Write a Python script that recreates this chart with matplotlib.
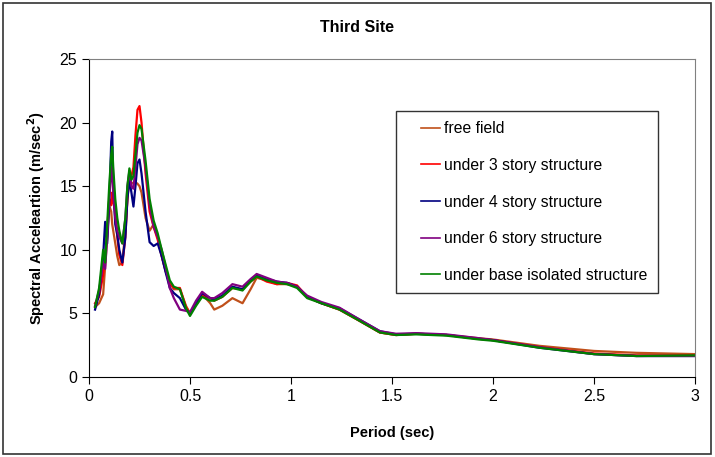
import matplotlib
matplotlib.use('Agg')
import matplotlib.pyplot as plt
from matplotlib.patches import Rectangle
from matplotlib.legend_handler import HandlerLine2D
from matplotlib.lines import Line2D

plt.rcParams['font.family'] = ['Liberation Sans', 'DejaVu Sans']

period = [0.03, 0.05, 0.07, 0.08, 0.09, 0.10, 0.11, 0.115, 0.12, 0.13,
          0.14, 0.15, 0.165, 0.18, 0.19, 0.20, 0.21, 0.22, 0.23, 0.24,
          0.25, 0.26, 0.28, 0.30, 0.32, 0.34, 0.36, 0.38, 0.40, 0.42,
          0.45, 0.48, 0.50, 0.53, 0.56, 0.60, 0.62, 0.66, 0.71, 0.76,
          0.80, 0.83, 0.88, 0.93, 0.98, 1.03, 1.08, 1.15, 1.24, 1.33,
          1.44, 1.52, 1.62, 1.77, 1.93, 2.00, 2.23, 2.50, 2.71, 3.00]

free_field = [5.5, 5.8, 6.5, 8.7, 11.0, 13.5, 13.0, 12.0, 11.5, 10.5,
              9.5, 8.8, 9.0, 11.5, 14.0, 15.5, 15.3, 15.2, 15.3, 15.2,
              15.0, 14.5, 12.5, 11.5, 12.0, 11.0, 9.5, 8.3, 7.4, 6.9,
              6.9, 5.6, 5.0, 5.7, 6.5, 5.8, 5.3, 5.6, 6.2, 5.8,
              6.9, 7.8, 7.6, 7.3, 7.3, 7.1, 6.3, 5.8, 5.3, 4.5,
              3.5, 3.3, 3.4, 3.3, 3.05, 2.95, 2.45, 2.05, 1.9, 1.8]

story3 = [5.8, 6.3, 8.0, 9.5, 11.5, 14.0, 13.5, 14.5, 13.8, 13.0,
          11.0, 9.6, 8.8, 11.0, 14.0, 16.0, 15.8, 16.5, 19.0, 21.0,
          21.3, 20.0, 16.0, 13.0, 11.8, 10.8, 9.5, 8.3, 7.3, 7.0,
          7.0, 5.5, 5.0, 5.7, 6.4, 6.2, 6.0, 6.3, 7.0, 6.9,
          7.5, 7.9, 7.5, 7.3, 7.4, 7.2, 6.3, 5.8, 5.3, 4.5,
          3.5, 3.3, 3.4, 3.3, 3.0, 2.9, 2.35, 1.85, 1.7, 1.7]

story4 = [5.3, 6.5, 9.5, 12.2, 10.5, 13.5, 18.5, 19.3, 15.0, 12.0,
          11.2, 10.0, 9.0, 11.0, 14.0, 15.5, 14.5, 13.4, 15.0, 16.8,
          17.1, 16.0, 13.0, 10.6, 10.3, 10.5, 9.5, 8.2, 7.0, 6.6,
          6.2, 5.3, 5.0, 5.8, 6.6, 6.2, 6.1, 6.4, 7.1, 6.9,
          7.6, 8.0, 7.7, 7.5, 7.4, 7.1, 6.3, 5.8, 5.4, 4.6,
          3.6, 3.35, 3.4, 3.3, 3.0, 2.9, 2.3, 1.8, 1.65, 1.65]

story6 = [5.6, 6.8, 9.0, 8.5, 11.0, 14.0, 16.0, 16.5, 14.5, 12.5,
          11.5, 11.0, 10.5, 12.5, 15.0, 16.2, 15.0, 14.8, 16.5, 18.3,
          18.8, 18.6, 16.5, 13.5, 11.8, 11.0, 10.0, 8.6, 7.0, 6.2,
          5.3, 5.2, 5.1, 6.0, 6.7, 6.2, 6.2, 6.6, 7.3, 7.1,
          7.7, 8.1, 7.8, 7.5, 7.4, 7.1, 6.4, 5.9, 5.45, 4.6,
          3.6, 3.4, 3.45, 3.35, 3.05, 2.9, 2.35, 1.8, 1.65, 1.65]

base_isolated = [5.5, 7.0, 10.0, 9.0, 12.0, 15.0, 17.5, 18.1, 16.5, 14.0,
                 12.5, 11.5, 10.5, 12.5, 15.0, 16.4, 15.5, 15.8, 17.5, 19.2,
                 19.8, 19.5, 17.0, 14.0, 12.3, 11.3, 10.0, 8.8, 7.6, 7.1,
                 6.9, 5.4, 4.8, 5.6, 6.3, 6.0, 6.0, 6.3, 7.0, 6.8,
                 7.5, 7.9, 7.6, 7.4, 7.3, 7.0, 6.2, 5.8, 5.3, 4.5,
                 3.5, 3.3, 3.35, 3.25, 2.95, 2.85, 2.3, 1.8, 1.65, 1.7]

labels = ['free field', 'under 3 story structure', 'under 4 story structure',
          'under 6 story structure', 'under base isolated structure']
colors = ['#C0501A', '#FF0000', '#000080', '#800080', '#008000']
x_ticks = [0, 0.5, 1, 1.5, 2, 2.5, 3]
x_tick_labels = ['0', '0.5', '1', '1.5', '2', '2.5', '3']
y_ticks = [0, 5, 10, 15, 20, 25]

fig = plt.figure(figsize=(7.15, 4.57), dpi=100)
ax = fig.add_axes([89 / 715, 80 / 457, 606 / 715, 318 / 457])

series = [free_field, story3, story4, story6, base_isolated]
for vals, lab, col in zip(series, labels, colors):
    ax.plot(period, vals, color=col, lw=1.6, label=lab,
            solid_joinstyle='round')

ax.set_xlim(0, 3)
ax.set_ylim(0, 25)
ax.set_xticks(x_ticks)
ax.set_xticklabels(x_tick_labels)
ax.set_yticks(y_ticks)
ax.tick_params(direction='out', length=5, labelsize=11.5, color='black')
for s in ['top', 'right']:
    ax.spines[s].set_color('#808080')
for s in ['left', 'bottom']:
    ax.spines[s].set_color('black')

ax.set_xlabel('Period (sec)', fontsize=10.5, fontweight='bold', labelpad=16)
ax.set_ylabel('Spectral Acceleartion (m/sec$^\\mathbf{2}$)', fontsize=10.5,
              fontweight='bold', labelpad=9)
fig.text(0.5, 1 - 28 / 457, 'Third Site', ha='center', va='center',
         fontsize=11.5, fontweight='bold')

leg = ax.legend(loc='upper left', bbox_to_anchor=(396 / 715, 1 - 111 / 457),
                bbox_transform=fig.transFigure, frameon=True, fancybox=False,
                edgecolor='black', fontsize=11.3, labelspacing=1.38,
                handlelength=2.17, handletextpad=0.25, borderpad=0.65,
                borderaxespad=0,
                handler_map={Line2D: HandlerLine2D(xpad=0.96)})
leg.get_frame().set_linewidth(1.0)
for line in leg.get_lines():
    line.set_linewidth(1.2)

fig.patches.append(Rectangle((3 / 715, 3 / 457), 708 / 715, 451 / 457,
                             transform=fig.transFigure, fill=False,
                             edgecolor='#333333', lw=1.2))

fig.savefig('out.png', dpi=100)
